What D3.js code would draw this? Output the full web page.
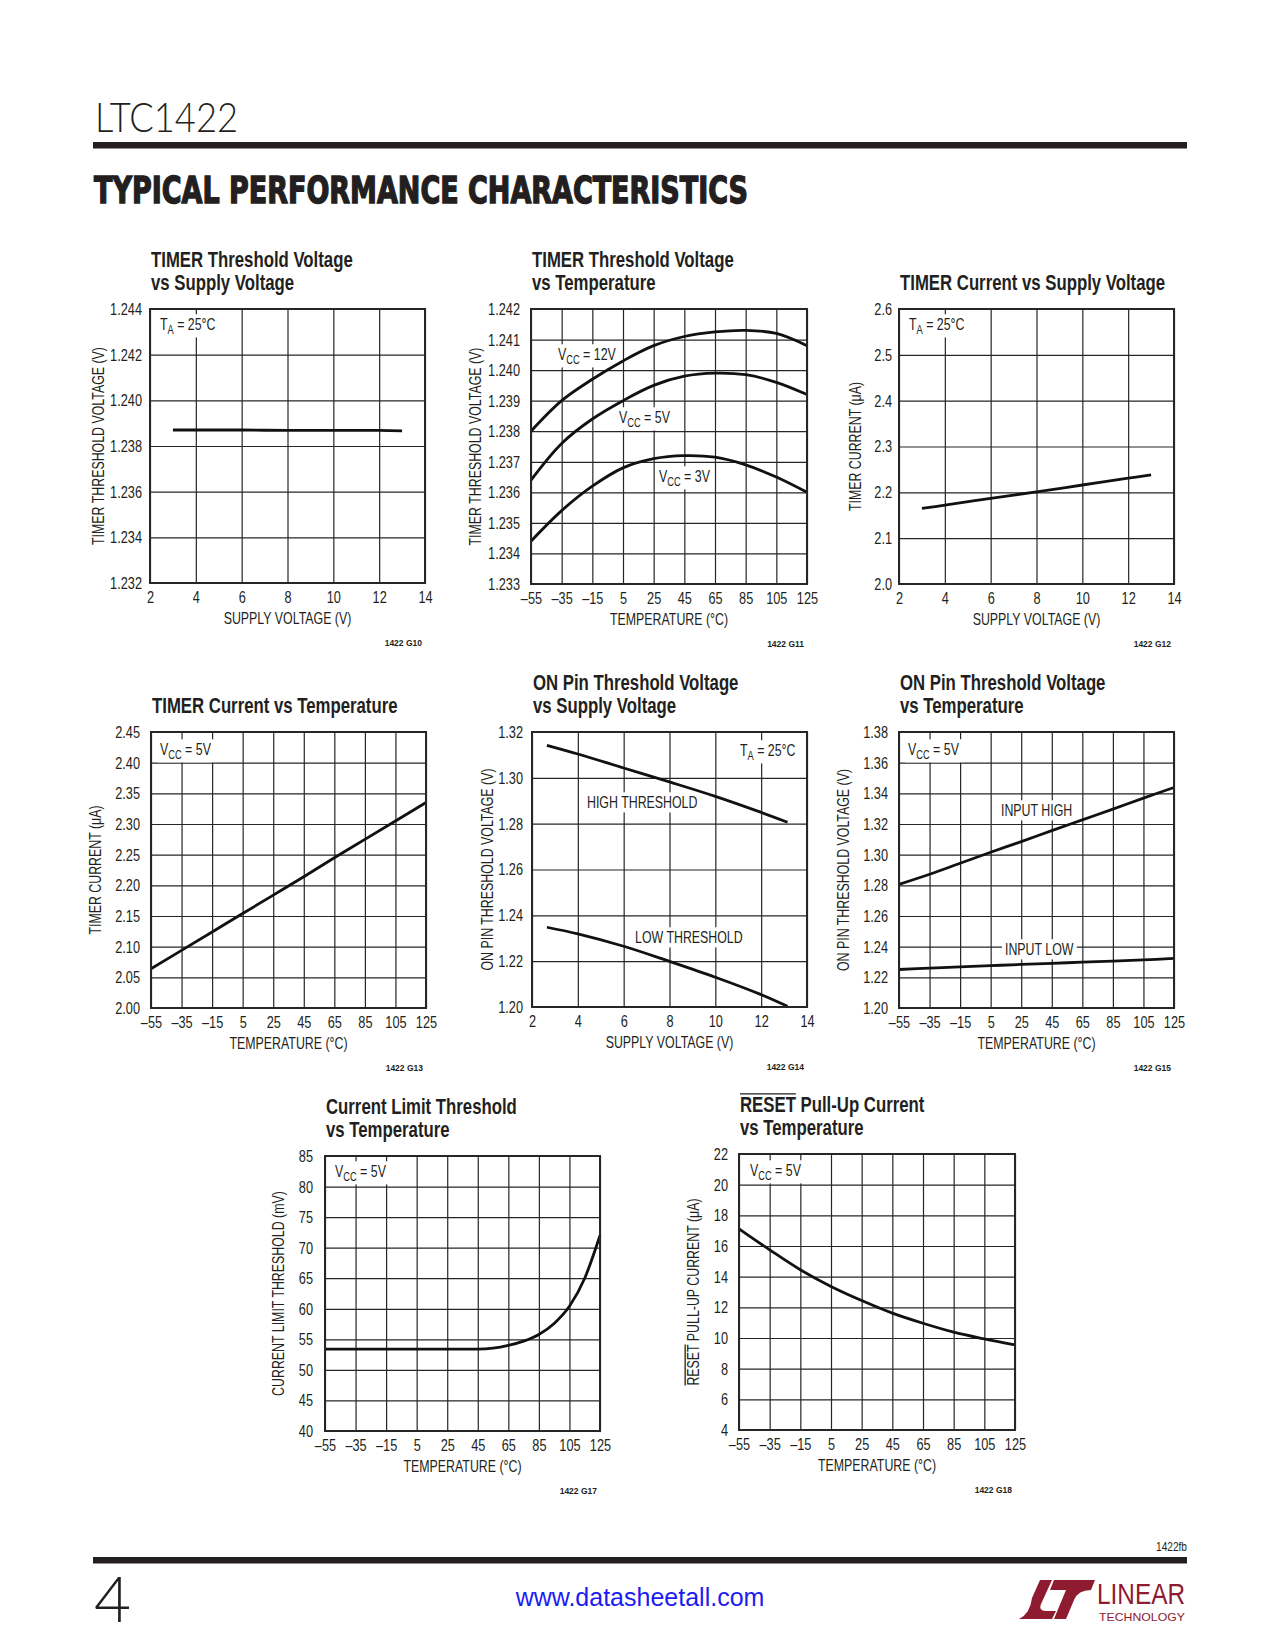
<!DOCTYPE html>
<html>
<head>
<meta charset="utf-8">
<script src="https://cdn.jsdelivr.net/npm/d3@7"></script>
<style>
  body { margin: 0; background: #fff; }
  svg text { font-family: "Liberation Sans", Arial, sans-serif; fill: #231f20; }
</style>
</head>
<body>
<div id="page"></div>
<script>
/* global d3 */

// ---- page ----
const width = 1275,
  height = 1650

// ---- shared ticks ----
const supplyTicks = [2, 4, 6, 8, 10, 12, 14]
const tempTicks = [-55, -35, -15, 5, 25, 45, 65, 85, 105, 125]

// G10 TIMER threshold vs supply
const g10Vcc = [3, 4, 6, 8, 10, 12, 13]
const g10Vth = [1.2387, 1.2387, 1.2387, 1.23868, 1.23868, 1.23868, 1.23866]
const g10YTicks = [1.232, 1.234, 1.236, 1.238, 1.240, 1.242, 1.244]

// G11 TIMER threshold vs temperature
const g11Vcc12 = [1.2380, 1.2390, 1.2397, 1.2403, 1.2408, 1.2411, 1.24125, 1.2413, 1.2412, 1.2408]
const g11Vcc5 = [1.2364, 1.2376, 1.2384, 1.2390, 1.2395, 1.2398, 1.2399, 1.23985, 1.2396, 1.2392]
const g11Vcc3 = [1.2344, 1.2354, 1.2362, 1.2368, 1.2371, 1.2372, 1.23715, 1.2369, 1.2365, 1.2360]
const g11YTicks = [1.233, 1.234, 1.235, 1.236, 1.237, 1.238, 1.239, 1.240, 1.241, 1.242]

// G12 TIMER current vs supply
const g12Vcc = [3, 4, 6, 8, 10, 12, 13]
const g12Current = [2.165, 2.172, 2.187, 2.201, 2.216, 2.231, 2.238]
const g12YTicks = [2.0, 2.1, 2.2, 2.3, 2.4, 2.5, 2.6]

// G13 TIMER current vs temperature
const g13Current = [2.064, 2.094, 2.124, 2.154, 2.184, 2.214, 2.245, 2.275, 2.305, 2.335]
const g13YTicks = [2.00, 2.05, 2.10, 2.15, 2.20, 2.25, 2.30, 2.35, 2.40, 2.45]

// G14 ON pin threshold vs supply
const g14Vcc = [2.65, 4, 6, 8, 10, 12, 13.15]
const g14High = [1.3142, 1.3104, 1.3043, 1.2982, 1.2919, 1.2849, 1.2806]
const g14Low = [1.2348, 1.2319, 1.2265, 1.2199, 1.2130, 1.2054, 1.2003]
const g14YTicks = [1.20, 1.22, 1.24, 1.26, 1.28, 1.30, 1.32]

// G15 ON pin threshold vs temperature
const g15High = [1.2806, 1.2872, 1.2944, 1.3016, 1.3085, 1.3157, 1.3227, 1.3297, 1.3369, 1.3438]
const g15Low = [1.2251, 1.2260, 1.2268, 1.2276, 1.2284, 1.2291, 1.2299, 1.2306, 1.2314, 1.2323]
const g15YTicks = [1.20, 1.22, 1.24, 1.26, 1.28, 1.30, 1.32, 1.34, 1.36, 1.38]

// G17 current limit threshold vs temperature
const g17Temp = [-55, -35, -15, 5, 25, 45, 55, 65, 75, 85, 95, 105, 115, 125]
const g17Threshold = [53.4, 53.4, 53.4, 53.4, 53.4, 53.4, 53.55, 54.0, 54.7, 55.8, 57.6, 60.4, 65.0, 72.0]
const g17YTicks = [40, 45, 50, 55, 60, 65, 70, 75, 80, 85]

// G18 RESET pull-up current vs temperature
const g18Current = [17.12, 15.75, 14.45, 13.36, 12.44, 11.62, 10.96, 10.38, 9.94, 9.55]
const g18YTicks = [4, 6, 8, 10, 12, 14, 16, 18, 20, 22]

const dashFmt = d => (d < 0 ? '\u2013' + Math.abs(d) : '' + d)
const smooth = d3.curveCatmullRom.alpha(0.5)

// plot settings built from the arrays above
const plots = [
  { id: 'G10', l: 150, r: 425, t: 309, b: 583, title: ['TIMER Threshold Voltage', 'vs Supply Voltage'],
    xTicks: supplyTicks, xFmt: d3.format('d'), yTicks: g10YTicks, yFmt: d3.format('.3f'),
    xLabel: 'SUPPLY VOLTAGE (V)', yLabel: 'TIMER THRESHOLD VOLTAGE (V)', yLabelX: 98, yTickGap: 8,
    series: [{ x: g10Vcc, y: g10Vth }],
    notes: [{ t: 'T_{A} = 25°C', x: 160, y: 330 }] },
  { id: 'G11', l: 531, r: 807, t: 309, b: 584, title: ['TIMER Threshold Voltage', 'vs Temperature'],
    xTicks: tempTicks, xFmt: dashFmt, yTicks: g11YTicks, yFmt: d3.format('.3f'),
    xLabel: 'TEMPERATURE (°C)', yLabel: 'TIMER THRESHOLD VOLTAGE (V)', yLabelX: 475, yTickGap: 11,
    series: [{ x: tempTicks, y: g11Vcc12 }, { x: tempTicks, y: g11Vcc5 }, { x: tempTicks, y: g11Vcc3 }],
    notes: [{ t: 'V_{CC} = 12V', x: 558, y: 360 }, { t: 'V_{CC} = 5V', x: 619, y: 423 }, { t: 'V_{CC} = 3V', x: 659, y: 482 }] },
  { id: 'G12', l: 899, r: 1174, t: 309, b: 584, title: ['TIMER Current vs Supply Voltage'],
    xTicks: supplyTicks, xFmt: d3.format('d'), yTicks: g12YTicks, yFmt: d3.format('.1f'),
    xLabel: 'SUPPLY VOLTAGE (V)', yLabel: 'TIMER CURRENT (μA)', yLabelX: 855, yTickGap: 7,
    series: [{ x: g12Vcc, y: g12Current }],
    notes: [{ t: 'T_{A} = 25°C', x: 909, y: 330 }] },
  { id: 'G13', l: 151, r: 426, t: 732, b: 1008, title: ['TIMER Current vs Temperature'],
    xTicks: tempTicks, xFmt: dashFmt, yTicks: g13YTicks, yFmt: d3.format('.2f'),
    xLabel: 'TEMPERATURE (°C)', yLabel: 'TIMER CURRENT (μA)', yLabelX: 95, yTickGap: 11,
    series: [{ x: tempTicks, y: g13Current }],
    notes: [{ t: 'V_{CC} = 5V', x: 160, y: 755 }] },
  { id: 'G14', l: 532, r: 807, t: 732, b: 1007, title: ['ON Pin Threshold Voltage', 'vs Supply Voltage'],
    xTicks: supplyTicks, xFmt: d3.format('d'), yTicks: g14YTicks, yFmt: d3.format('.2f'),
    xLabel: 'SUPPLY VOLTAGE (V)', yLabel: 'ON PIN THRESHOLD VOLTAGE (V)', yLabelX: 487, yTickGap: 9,
    series: [{ x: g14Vcc, y: g14High }, { x: g14Vcc, y: g14Low }],
    notes: [{ t: 'T_{A} = 25°C', x: 740, y: 756 }, { t: 'HIGH THRESHOLD', x: 587, y: 808 }, { t: 'LOW THRESHOLD', x: 635, y: 943 }] },
  { id: 'G15', l: 899, r: 1174, t: 732, b: 1008, title: ['ON Pin Threshold Voltage', 'vs Temperature'],
    xTicks: tempTicks, xFmt: dashFmt, yTicks: g15YTicks, yFmt: d3.format('.2f'),
    xLabel: 'TEMPERATURE (°C)', yLabel: 'ON PIN THRESHOLD VOLTAGE (V)', yLabelX: 843, yTickGap: 11,
    series: [{ x: tempTicks, y: g15High }, { x: tempTicks, y: g15Low }],
    notes: [{ t: 'V_{CC} = 5V', x: 908, y: 755 }, { t: 'INPUT HIGH', x: 1001, y: 816 }, { t: 'INPUT LOW', x: 1005, y: 955 }] },
  { id: 'G17', l: 325, r: 600, t: 1156, b: 1431, title: ['Current Limit Threshold', 'vs Temperature'],
    xTicks: tempTicks, xFmt: dashFmt, yTicks: g17YTicks, yFmt: d3.format('d'),
    xLabel: 'TEMPERATURE (°C)', yLabel: 'CURRENT LIMIT THRESHOLD (mV)', yLabelX: 278, yTickGap: 12,
    series: [{ x: g17Temp, y: g17Threshold, curve: d3.curveMonotoneX }],
    notes: [{ t: 'V_{CC} = 5V', x: 335, y: 1177 }] },
  { id: 'G18', l: 739, r: 1015, t: 1154, b: 1430, title: ['RESET Pull-Up Current', 'vs Temperature'], titleBar: 5,
    xTicks: tempTicks, xFmt: dashFmt, yTicks: g18YTicks, yFmt: d3.format('d'),
    xLabel: 'TEMPERATURE (°C)', yLabel: 'RESET PULL-UP CURRENT (μA)', yLabelBar: 5, yLabelX: 693, yTickGap: 11,
    series: [{ x: tempTicks, y: g18Current }],
    notes: [{ t: 'V_{CC} = 5V', x: 750, y: 1176 }] }
]

const ink = '#231f20'
const sx = 0.75 // horizontal squeeze to get a condensed face
const tickSize = 17, labelSize = 16.5

let svg = d3.select('#page')
  .append('svg')
  .attr('width', width)
  .attr('height', height)
  .style('background', '#fff')

// text with _{sub} parts
let richText = (sel, str, size) => {
  let parts = str.split(/_\{([^}]*)\}/)
  let shift = size * 0.25
  parts.forEach((p, i) => {
    if (!p) return
    let ts = sel.append('tspan').text(p)
    if (i % 2 === 1) {
      ts.attr('font-size', size * 0.75).attr('dy', shift)
    } else if (i > 0) {
      ts.attr('dy', -shift)
    }
  })
}

// condensed text: a squeezed group with the text at its origin
let ctext = (parent, x, y, size, str, opts = {}) => {
  let g = parent.append('g')
    .attr('transform', `translate(${x},${y})${opts.rotate ? ' rotate(-90)' : ''} scale(${opts.sx || sx},1)`)
  let t = g.append('text').attr('font-size', size)
  if (opts.anchor) t.attr('text-anchor', opts.anchor)
  if (opts.bold) t.attr('font-weight', 'bold')
  richText(t, str, size)
  return { g, t }
}

// overline over the first n characters, in the text's own group
let overline = (c, n, size, x0) => {
  let w = c.t.node().getSubStringLength(0, n)
  c.g.append('line')
    .attr('x1', x0).attr('x2', x0 + w)
    .attr('y1', -size * 0.84).attr('y2', -size * 0.84)
    .attr('stroke', ink).attr('stroke-width', 1.3)
}

let drawPlot = (p) => {
  let g = svg.append('g').attr('class', p.id)
  let xs = d3.scaleLinear().domain(d3.extent(p.xTicks)).range([p.l, p.r])
  let ys = d3.scaleLinear().domain(d3.extent(p.yTicks)).range([p.b, p.t])
  let w = p.r - p.l, h = p.b - p.t

  // grid
  g.append('g')
    .attr('transform', `translate(0,${p.b})`)
    .call(d3.axisBottom(xs).tickValues(p.xTicks).tickSize(-h).tickFormat(''))
    .call(a => a.select('.domain').remove())
    .call(a => a.selectAll('line').attr('stroke', '#262626').attr('stroke-width', 1.2))
  g.append('g')
    .attr('transform', `translate(${p.l},0)`)
    .call(d3.axisLeft(ys).tickValues(p.yTicks).tickSize(-w).tickFormat(''))
    .call(a => a.select('.domain').remove())
    .call(a => a.selectAll('line').attr('stroke', '#262626').attr('stroke-width', 1.2))

  // notes with white boxes
  p.notes.forEach(n => {
    let c = ctext(g, n.x, n.y, labelSize, n.t)
    let bb = c.t.node().getBBox()
    c.g.insert('rect', 'text')
      .attr('fill', '#fff')
      .attr('x', bb.x - 4).attr('y', bb.y - 1).attr('width', bb.width + 8).attr('height', bb.height + 2)
  })

  // curves
  p.series.forEach(s => {
    let line = d3.line().curve(s.curve || smooth)
    g.append('path')
      .datum(s.x.map((v, i) => [xs(v), ys(s.y[i])]))
      .attr('d', line)
      .attr('fill', 'none')
      .attr('stroke', '#111')
      .attr('stroke-width', 2.8)
      .attr('stroke-linejoin', 'round')
  })

  // frame
  g.append('rect')
    .attr('x', p.l).attr('y', p.t).attr('width', w).attr('height', h)
    .attr('fill', 'none').attr('stroke', '#262626').attr('stroke-width', 2)

  // tick labels
  g.append('g')
    .attr('transform', `translate(0,${p.b})`)
    .call(d3.axisBottom(xs).tickValues(p.xTicks).tickSize(0).tickPadding(8).tickFormat(p.xFmt))
    .call(a => a.select('.domain').remove())
    .call(a => a.attr('font-family', null).attr('font-size', tickSize))
    .call(a => a.selectAll('text').attr('transform', `scale(${sx},1)`))
  g.append('g')
    .attr('transform', `translate(${p.l},0)`)
    .call(d3.axisLeft(ys).tickValues(p.yTicks).tickSize(0).tickFormat(p.yFmt))
    .call(a => a.select('.domain').remove())
    .call(a => a.attr('font-family', null).attr('font-size', tickSize))
    .call(a => a.selectAll('text').attr('x', -p.yTickGap / sx).attr('transform', `scale(${sx},1)`))
  g.selectAll('.tick text').attr('fill', ink)

  // axis titles
  ctext(g, (p.l + p.r) / 2, p.b + 41, labelSize, p.xLabel, { anchor: 'middle' })
  let yl = ctext(g, p.yLabelX + 6, (p.t + p.b) / 2, labelSize, p.yLabel, { anchor: 'middle', rotate: true })
  if (p.yLabelBar) {
    let full = yl.t.node().getComputedTextLength()
    overline(yl, p.yLabelBar, labelSize, -full / 2)
  }

  // chart title
  p.title.forEach((s, i) => {
    let yy = p.t - 19 - (p.title.length - 1 - i) * 23
    let c = ctext(g, p.l + 1, yy, 21.5, s, { bold: true, sx: 0.78 })
    if (i === 0 && p.titleBar) overline(c, p.titleBar, 21.5, 0)
  })

  // figure number
  g.append('text')
    .attr('x', p.r - 3).attr('y', p.b + 63)
    .attr('text-anchor', 'end').attr('font-size', 8.5).attr('font-weight', 'bold')
    .text('1422 ' + p.id)
}

plots.forEach(drawPlot)

// ---- header ----
svg.append('text')
  .attr('x', 95).attr('y', 132)
  .style('font-family', 'Lato, "Open Sans", sans-serif').attr('font-weight', 300)
  .attr('font-size', 41).attr('textLength', 143).attr('lengthAdjust', 'spacingAndGlyphs')
  .text('LTC1422')
svg.append('rect').attr('x', 93).attr('y', 142).attr('width', 1094).attr('height', 6.5).attr('fill', ink)
svg.append('text')
  .attr('x', 94).attr('y', 203)
  .style('font-family', '"DejaVu Sans Condensed", "DejaVu Sans", sans-serif').attr('font-weight', 'bold')
  .attr('font-size', 38).attr('textLength', 654).attr('lengthAdjust', 'spacingAndGlyphs')
  .attr('stroke', ink).attr('stroke-width', 1.4)
  .text('TYPICAL PERFORMANCE CHARACTERISTICS')

// ---- footer ----
ctext(svg, 1187, 1551, 13.5, '1422fb', { anchor: 'end' })
svg.append('rect').attr('x', 93).attr('y', 1557).attr('width', 1094).attr('height', 6.5).attr('fill', ink)
svg.append('text')
  .attr('x', 94).attr('y', 1622)
  .style('font-family', 'Lato, "Open Sans", sans-serif').attr('font-weight', 300)
  .attr('font-size', 64)
  .text('4')
svg.append('text')
  .attr('x', 640).attr('y', 1606).attr('text-anchor', 'middle')
  .attr('font-size', 25).style('fill', '#1c1cf0')
  .text('www.datasheetall.com')

// Linear Technology logo
const logoRed = '#8e1b2f'
let logo = svg.append('g').attr('fill', logoRed)
logo.append('path')
  .attr('d', 'M1040,1580 L1052,1580 L1041,1604 Q1038,1611 1046,1611 L1056,1611 L1052,1619 L1019,1619 Q1030,1614 1032,1598 Z')
logo.append('path')
  .attr('d', 'M1054,1580 L1095,1580 L1091,1590 Q1078,1590 1074,1600 L1066,1619 L1054,1619 L1066,1590 L1050,1590 Z')
svg.append('text')
  .attr('x', 1097).attr('y', 1604)
  .attr('font-size', 30).attr('textLength', 88).attr('lengthAdjust', 'spacingAndGlyphs')
  .style('fill', logoRed)
  .text('LINEAR')
svg.append('text')
  .attr('x', 1099).attr('y', 1621)
  .attr('font-size', 11).attr('textLength', 86).attr('lengthAdjust', 'spacingAndGlyphs')
  .style('fill', logoRed)
  .text('TECHNOLOGY')
</script>
</body>
</html>
